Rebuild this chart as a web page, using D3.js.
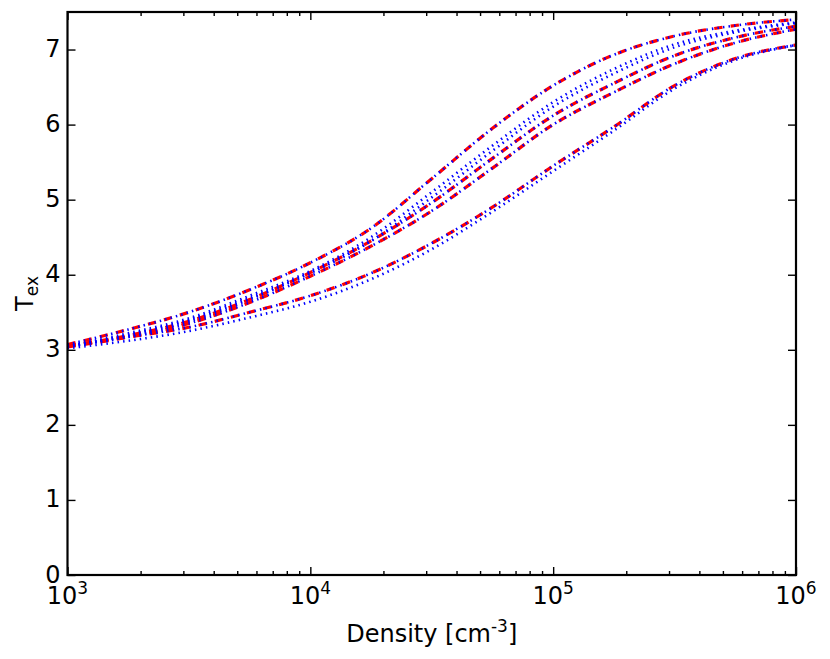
<!DOCTYPE html>
<html>
<head>
<meta charset="utf-8">
<script src="https://cdn.jsdelivr.net/npm/d3@7"></script>
<style>
	body {margin: 0; background: #fff;}
	text {font-family: "DejaVu Sans", sans-serif; fill: #000;}
</style>
</head>
<body>
<svg></svg>
<script>
var logDensity = [3, 3.25, 3.5, 3.75, 4, 4.25, 4.5, 4.75, 5, 5.25, 5.5, 5.75, 6];

// Red dashed curves (Tex)
var red1 = [3.07, 3.27, 3.50, 3.80, 4.16, 4.62, 5.28, 5.95, 6.52, 6.93, 7.18, 7.32, 7.40],
	red2 = [3.05, 3.19, 3.38, 3.67, 4.03, 4.45, 4.96, 5.55, 6.12, 6.55, 6.92, 7.16, 7.31],
	red3 = [3.04, 3.17, 3.35, 3.63, 3.98, 4.38, 4.85, 5.42, 6.00, 6.43, 6.81, 7.09, 7.27],
	red4 = [3.05, 3.17, 3.30, 3.50, 3.72, 4.02, 4.42, 4.90, 5.45, 5.97, 6.52, 6.88, 7.06];

// Blue dotted curves lying on the red ones
var blue1 = [3.07, 3.27, 3.50, 3.80, 4.16, 4.62, 5.28, 5.95, 6.52, 6.93, 7.18, 7.32, 7.40],
	blue2 = [3.05, 3.19, 3.38, 3.67, 4.03, 4.45, 4.96, 5.55, 6.12, 6.55, 6.92, 7.16, 7.31],
	blue3 = [3.04, 3.17, 3.35, 3.63, 3.98, 4.38, 4.85, 5.42, 6.00, 6.43, 6.81, 7.09, 7.27],
	blue4 = [3.05, 3.17, 3.30, 3.50, 3.72, 4.02, 4.42, 4.90, 5.45, 5.97, 6.52, 6.88, 7.06];

// Blue dotted curves standing apart
var blue5 = [3.05, 3.22, 3.42, 3.72, 4.05, 4.50, 5.10, 5.72, 6.30, 6.74, 7.07, 7.25, 7.36],
	blue6 = [3.04, 3.20, 3.40, 3.69, 4.02, 4.45, 5.03, 5.65, 6.24, 6.68, 7.03, 7.23, 7.35],
	blue7 = [3.02, 3.12, 3.25, 3.43, 3.64, 3.94, 4.34, 4.84, 5.38, 5.92, 6.48, 6.86, 7.06];

var xTicks = [1e3, 1e4, 1e5, 1e6],
	xTickExp = ["3", "4", "5", "6"],
	yTicks = [0, 1, 2, 3, 4, 5, 6, 7];

var WIDTH = 830,
	HEIGHT = 659,
	MARGIN = {top: 12, right: 34, bottom: 84, left: 67.5},
	MAJOR = 8, // inward tick lengths
	MINOR = 4,
	FONT = 24,
	SUP = 17;

var PLOT_W = WIDTH - MARGIN.left - MARGIN.right,
	PLOT_H = HEIGHT - MARGIN.top - MARGIN.bottom;

var svg = d3.select("svg")
	.attr("width", WIDTH)
	.attr("height", HEIGHT);

var x = d3.scaleLog().domain([1e3, 1e6]).range([MARGIN.left, MARGIN.left + PLOT_W]),
	y = d3.scaleLinear().domain([0, 7.5]).range([MARGIN.top + PLOT_H, MARGIN.top]);

// minor ticks 2..9 in each decade
var minorTicks = [];
xTicks.slice(0, 3).forEach(function(d) {
	for (var k = 2; k < 10; k++) minorTicks.push(d * k);
});

//////////// Curves

var plot = svg.append("g");

var line = d3.line()
	.x(function(d, i) {return x(Math.pow(10, logDensity[i]));})
	.y(function(d) {return y(d);})
	.curve(d3.curveMonotoneX);

function drawCurve(values, color, dash, width) {
	plot.append("path")
		.datum(values)
		.attr("d", line)
		.attr("fill", "none")
		.attr("stroke", color)
		.attr("stroke-width", width)
		.attr("stroke-dasharray", dash);
}

[red1, red2, red3, red4].forEach(function(v) {
	drawCurve(v, "#ff0000", "8.3,8.3", 3.2);
});
[blue1, blue2, blue3, blue4, blue5, blue6, blue7].forEach(function(v) {
	drawCurve(v, "#0000ff", "1.5,4.1", 2.6);
});

//////////// Axes (ticks pointing inward on all four sides)

function styleAxis(g) {
	g.select(".domain").remove();
	g.selectAll(".tick line").attr("stroke", "#000").attr("stroke-width", 1.4);
	g.selectAll(".tick text").remove();
}

svg.append("g")
	.attr("transform", "translate(0," + (MARGIN.top + PLOT_H) + ")")
	.call(d3.axisBottom(x).tickValues(xTicks).tickSize(-MAJOR))
	.call(styleAxis);
svg.append("g")
	.attr("transform", "translate(0," + (MARGIN.top + PLOT_H) + ")")
	.call(d3.axisBottom(x).tickValues(minorTicks).tickSize(-MINOR))
	.call(styleAxis);
svg.append("g")
	.attr("transform", "translate(0," + MARGIN.top + ")")
	.call(d3.axisTop(x).tickValues(xTicks).tickSize(-MAJOR))
	.call(styleAxis);
svg.append("g")
	.attr("transform", "translate(0," + MARGIN.top + ")")
	.call(d3.axisTop(x).tickValues(minorTicks).tickSize(-MINOR))
	.call(styleAxis);
svg.append("g")
	.attr("transform", "translate(" + MARGIN.left + ",0)")
	.call(d3.axisLeft(y).tickValues(yTicks).tickSize(-MAJOR))
	.call(styleAxis);
svg.append("g")
	.attr("transform", "translate(" + (MARGIN.left + PLOT_W) + ",0)")
	.call(d3.axisRight(y).tickValues(yTicks).tickSize(-MAJOR))
	.call(styleAxis);

// Frame
svg.append("rect")
	.attr("x", MARGIN.left)
	.attr("y", MARGIN.top)
	.attr("width", PLOT_W)
	.attr("height", PLOT_H)
	.attr("fill", "none")
	.attr("stroke", "#000")
	.attr("stroke-width", 2.2);

//////////// Tick labels

svg.selectAll("text.ylab")
	.data(yTicks)
  .enter().append("text")
	.attr("class", "ylab")
	.attr("x", MARGIN.left - 7)
	.attr("y", function(d) {return y(d) + 7.5;})
	.attr("text-anchor", "end")
	.attr("font-size", FONT)
	.text(function(d) {return d;});

var xlab = svg.selectAll("text.xlab")
	.data(xTicks)
  .enter().append("text")
	.attr("class", "xlab")
	.attr("x", function(d) {return x(d);})
	.attr("y", MARGIN.top + PLOT_H + 29)
	.attr("text-anchor", "middle")
	.attr("font-size", FONT);
xlab.append("tspan").text("10");
xlab.append("tspan")
	.attr("font-size", SUP)
	.attr("dy", -10)
	.text(function(d, i) {return xTickExp[i];});

//////////// Axis titles

var xtitle = svg.append("text")
	.attr("x", MARGIN.left + PLOT_W / 2)
	.attr("y", 642)
	.attr("text-anchor", "middle")
	.attr("font-size", FONT);
xtitle.append("tspan").text("Density [cm");
xtitle.append("tspan").attr("font-size", SUP).attr("dy", -10).text("-3");
xtitle.append("tspan").attr("dy", 10).text("]");

var ytitle = svg.append("text")
	.attr("transform", "translate(33," + (MARGIN.top + PLOT_H / 2) + ") rotate(-90)")
	.attr("text-anchor", "middle")
	.attr("font-size", FONT);
ytitle.append("tspan").text("T");
ytitle.append("tspan").attr("font-size", SUP).attr("dy", 5).text("ex");
</script>
</body>
</html>
